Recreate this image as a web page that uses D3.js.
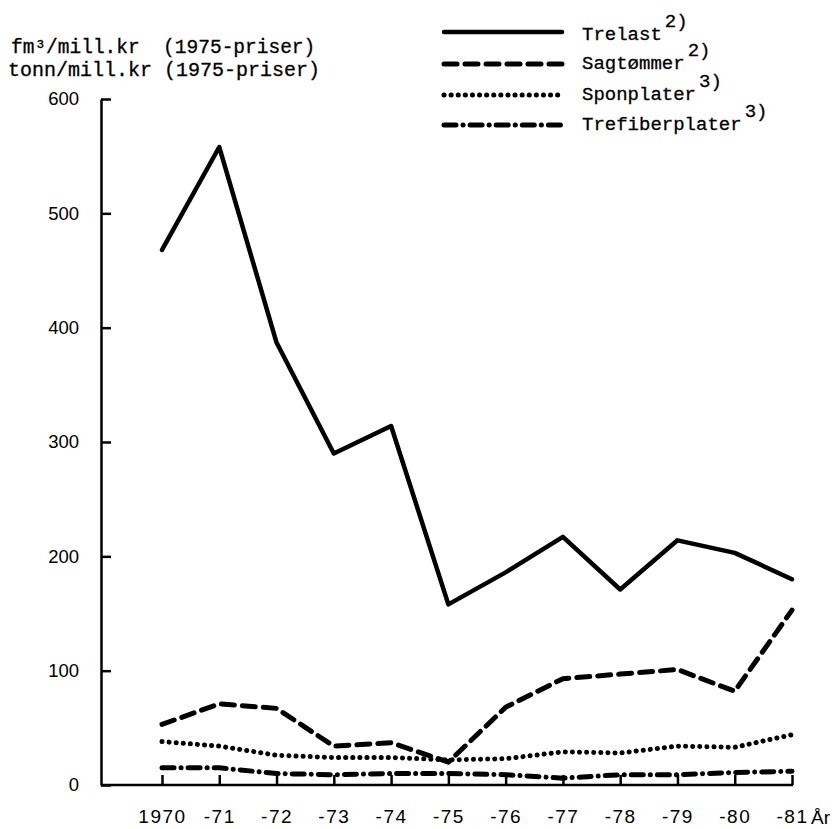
<!DOCTYPE html>
<html>
<head>
<meta charset="utf-8">
<script src="https://cdn.jsdelivr.net/npm/d3@7"></script>
<style>
  body { margin: 0; background: #fff; }
</style>
</head>
<body>
<svg id="chart" width="839" height="829"></svg>
<script>
let years = [1970, 1971, 1972, 1973, 1974, 1975, 1976, 1977, 1978, 1979, 1980, 1981]
let yearLabels = ["1970", "-71", "-72", "-73", "-74", "-75", "-76", "-77", "-78", "-79", "-80", "-81"]
let yTicks = [0, 100, 200, 300, 400, 500, 600]

let trelast = [468, 558, 387, 290, 314, 158, 186, 217, 171, 214, 203, 180]
let sagtommer = [53, 71, 67, 34, 37, 20, 68, 93, 97, 101, 82, 153]
let sponplater = [38, 34, 26, 24, 24, 22, 23, 29, 28, 34, 33, 44]
let trefiberplater = [15, 15, 10, 9, 10, 10, 9, 6, 9, 9, 11, 12]

let seriesNames = ["Trelast", "Sagtømmer", "Sponplater", "Trefiberplater"]
let seriesNotes = ["2)", "2)", "3)", "3)"]

let svg = d3.select("#chart")
let labelFont = "'Liberation Sans', Arial, sans-serif"
let monoFont = "'Liberation Mono', 'DejaVu Sans Mono', monospace"

let axisLeftX = 101
let x = d3.scaleLinear().domain([1970, 1981]).range([162, 792])
let y = d3.scaleLinear().domain([0, 600]).range([785, 99])

// dash styles per series
let styles = [
  { dash: null, width: 4.5, cap: "round" },
  { dash: "13 8", width: 5, cap: "round" },
  { dash: "0.1 7", width: 5, cap: "round" },
  { dash: "12 7 0.1 7", width: 5, cap: "round" }
]

// y axis
let yAxis = d3.axisLeft(y)
  .tickValues(yTicks)
  .tickSizeInner(-10)
  .tickSizeOuter(0)
  .tickPadding(22)

let gy = svg.append("g")
  .attr("transform", "translate(" + axisLeftX + ",0)")
  .call(yAxis)
gy.selectAll("path, line").attr("stroke", "#000").attr("stroke-width", 2.5)
gy.selectAll("text")
  .style("font-family", labelFont)
  .style("font-size", "18.5px")
  .attr("fill", "#000")

// x axis
let xAxis = d3.axisBottom(x)
  .tickValues(years)
  .tickFormat((d, i) => yearLabels[i])
  .tickSizeInner(-10)
  .tickSizeOuter(0)
  .tickPadding(25)

let gx = svg.append("g")
  .attr("transform", "translate(0," + y(0) + ")")
  .call(xAxis)
gx.select(".domain").remove()
gx.selectAll("line").attr("stroke", "#000").attr("stroke-width", 2.5)
gx.selectAll("text")
  .style("font-family", labelFont)
  .style("font-size", "19px")
  .style("letter-spacing", "1.5px")
  .attr("fill", "#000")

svg.append("line")
  .attr("x1", axisLeftX)
  .attr("x2", x(1981) + 1)
  .attr("y1", y(0))
  .attr("y2", y(0))
  .attr("stroke", "#000")
  .attr("stroke-width", 2.5)

svg.append("text")
  .attr("x", x(1981) + 19)
  .attr("y", y(0) + 39)
  .text("År")
  .style("font-family", labelFont)
  .style("font-size", "19px")

// unit label
svg.append("text")
  .attr("x", 11)
  .attr("y", 53)
  .text("fm³/mill.kr  (1975-priser)")
  .style("font-family", monoFont)
  .style("font-size", "19.5px")
  .style("white-space", "pre")
  .attr("stroke", "#000")
  .attr("stroke-width", 0.3)
svg.append("text")
  .attr("x", 8)
  .attr("y", 76)
  .text("tonn/mill.kr (1975-priser)")
  .style("font-family", monoFont)
  .style("font-size", "20px")
  .attr("stroke", "#000")
  .attr("stroke-width", 0.3)

// lines
let allSeries = [trelast, sagtommer, sponplater, trefiberplater]
let line = d3.line()
  .x((d, i) => x(years[i]))
  .y(d => y(d))

allSeries.forEach((s, k) => {
  svg.append("path")
    .datum(s)
    .attr("d", line)
    .attr("fill", "none")
    .attr("stroke", "#000")
    .attr("stroke-width", styles[k].width)
    .attr("stroke-linecap", styles[k].cap)
    .attr("stroke-linejoin", "round")
    .attr("stroke-dasharray", styles[k].dash)
})

// legend
let legendY = [32, 64, 95, 125]
let legendTextY = [40, 69, 100, 130]
seriesNames.forEach((name, k) => {
  svg.append("line")
    .attr("x1", 444)
    .attr("x2", 562)
    .attr("y1", legendY[k])
    .attr("y2", legendY[k])
    .attr("stroke", "#000")
    .attr("stroke-width", styles[k].width)
    .attr("stroke-linecap", styles[k].cap)
    .attr("stroke-dasharray", styles[k].dash)

  let t = svg.append("text")
    .attr("x", 582)
    .attr("y", legendTextY[k])
    .style("font-family", monoFont)
    .style("font-size", "19px")
    .attr("stroke", "#000")
    .attr("stroke-width", 0.3)
  t.append("tspan").text(name)
  t.append("tspan")
    .attr("dx", 3)
    .attr("dy", -13)
    .text(seriesNotes[k])
})
</script>
</body>
</html>
